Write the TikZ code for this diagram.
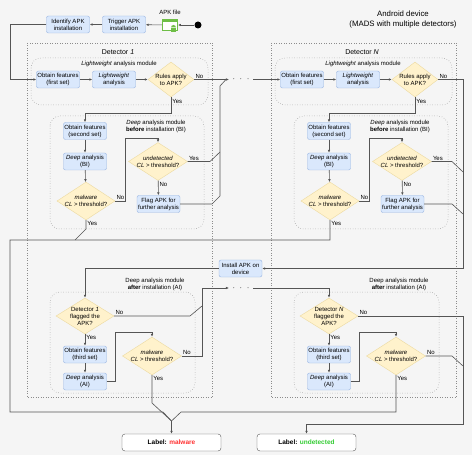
\documentclass[tikz,border=0pt]{standalone}
\usepackage{fontspec}
\setmainfont{Liberation Sans}
\usetikzlibrary{arrows.meta,shapes.geometric,calc}
\definecolor{BoxBlue}{RGB}{218,232,252}
\definecolor{BoxLine}{RGB}{150,180,225}
\definecolor{DiaFill}{RGB}{255,242,204}
\definecolor{DiaLine}{RGB}{236,218,160}
\definecolor{FlowGray}{RGB}{85,85,85}
\definecolor{FrameGray}{RGB}{140,140,140}
\definecolor{PageGray}{RGB}{245,245,245}
\definecolor{ApkGreen}{RGB}{110,190,70}
\definecolor{MalRed}{RGB}{255,51,51}
\definecolor{UndGreen}{RGB}{51,204,51}

\begin{document}
\begin{tikzpicture}[x=1pt,y=1pt,>={Latex[length=3pt,width=2.6pt]},
    font=\fontsize{6}{7}\selectfont,
    box/.style={draw=BoxLine,fill=BoxBlue,rounded corners=2pt,minimum width=43pt,minimum height=17pt,inner sep=1pt,align=center},
    dia/.style={shape=diamond,draw=DiaLine,fill=DiaFill,inner sep=-4pt,minimum width=58pt,minimum height=36pt,align=center},
    flow/.style={draw=FlowGray,line width=0.6pt},
    frame/.style={draw=FrameGray,dotted,line width=0.5pt},
    module/.style={frame,rounded corners=10pt},
    lbl/.style={inner sep=1pt},
    result/.style={draw=FlowGray,fill=white,rounded corners=3pt,minimum width=99pt,minimum height=17pt,font=\fontsize{6.5}{7}\selectfont\bfseries}]
      \useasboundingbox (0,0) rectangle (474,-457);
      \fill[PageGray] (0,0) rectangle (472,-455);
      \node[align=center,font=\fontsize{7.8}{10}\selectfont] (device) at (403,-19) {Android device\\(MADS with multiple detectors)};
      % APK file and installation trigger
      \node[circle,fill=black,minimum size=7pt,inner sep=0pt] (start) at (198,-25) {};
      \node[draw=ApkGreen,fill=white,line width=0.9pt,minimum width=15pt,minimum height=11pt,inner sep=0pt] (apk) at (170,-25) {};
      \fill[ApkGreen] (apk.north west) rectangle ($(apk.north east)+(0,-3)$);
      \fill[ApkGreen] (176,-27.5) arc (0:180:2.5) -- cycle;
      \fill[ApkGreen] (171,-28) rectangle (176,-32);
      \node (apkname) at (170,-12) {APK file};
      \node[box] (trig) at (124,-24.5) {Trigger APK\\installation};
      \node[box] (ident) at (68,-24.5) {Identify APK\\installation};
      \draw[flow,->] (start) -- (apk);
      \draw[flow,->] (apk) -- (trig);
      \draw[flow,->] (trig) -- (ident);
      % one detector, drawn twice
      \foreach \d/\o in {1/0,N/244}{
        \begin{scope}[xshift=\o pt]
          \draw[frame] (27,-43) rectangle (212,-397);
          \node[font=\fontsize{7}{8}\selectfont] (det\d) at (118,-52) {Detector \textit{\d}};
          \draw[module] (31,-58) rectangle (208,-105);
          \node (lwtitle\d) at (119,-64) {\textit{Lightweight} analysis module};
          \node[box] (feat1\d) at (58,-79.5) {Obtain features\\(first set)};
          \node[box] (lwa\d) at (114,-79.5) {\textit{Lightweight}\\analysis};
          \node[dia,minimum width=46pt,minimum height=35pt] (rules\d) at (171,-79.5) {Rules apply\\to APK?};
          \draw[flow,->] (feat1\d) -- (lwa\d);
          \draw[flow,->] (lwa\d) -- (rules\d);
          % before installation
          \draw[module] (50,-116) rectangle (204,-229);
          \node[align=center] (bititle\d) at (156,-126) {\textit{Deep} analysis module\\\textbf{before} installation (BI)};
          \node[box] (feat2\d) at (85,-131) {Obtain features\\(second set)};
          \node[box] (deepbi\d) at (85,-161.5) {\textit{Deep} analysis\\(BI)};
          \node[dia,minimum height=35pt] (malbi\d) at (86,-201) {\textit{malware}\\\textit{CL} > threshold?};
          \node[dia,minimum width=59pt,minimum height=37pt] (undet\d) at (158,-161.5) {\textit{undetected}\\\textit{CL} > threshold?};
          \node[box] (flag\d) at (158.5,-204) {Flag APK for\\further analysis};
          \draw[flow,->] (rules\d.south) -- (171,-113) node[lbl,pos=0.25,right]{Yes} -| (feat2\d.north);
          \draw[flow,->] (feat2\d) -- (deepbi\d);
          \draw[flow,->] (deepbi\d) -- (malbi\d);
          \draw[flow,->] (malbi\d.east) node[lbl,above right]{No} -- (125,-201) -- (125,-138) -- (158,-138) -- (undet\d.north);
          \draw[flow,->] (undet\d) -- node[lbl,pos=0.3,right]{No} (flag\d);
          % after installation
          \draw[module] (50,-292) rectangle (195,-393);
          \node[align=center] (aititle\d) at (155,-284) {Deep analysis module\\\textbf{after} installation (AI)};
          \node[dia] (flagged\d) at (85,-316) {Detector \textit{\d}\\flagged the\\APK?};
          \node[box] (feat3\d) at (85,-354.5) {Obtain features\\(third set)};
          \node[box] (deepai\d) at (85,-381.5) {\textit{Deep} analysis\\(AI)};
          \node[dia,minimum width=59pt] (malai\d) at (152,-356) {\textit{malware}\\\textit{CL} > threshold?};
          \draw[flow,->] (flagged\d) -- node[lbl,pos=0.3,right]{Yes} (feat3\d);
          \draw[flow,->] (feat3\d) -- (deepai\d);
          \draw[flow,->] (deepai\d.east) -- (115,-381.5) -- (115,-332) -- (152,-332) -- (malai\d.north);
        \end{scope}
      }
      \node (dotsLW) at (241,-79.5) {\fontsize{9}{9}\selectfont$\cdot\;\cdot\;\cdot$};
      \node (dotsAI) at (241,-288) {\fontsize{9}{9}\selectfont$\cdot\;\cdot\;\cdot$};
      \node[box] (inst) at (240.5,-268.5) {Install APK on\\device};
      \node[result] (lblmal) at (171.5,-442.5) {Label: \textcolor{MalRed}{malware}};
      \node[result] (lblund) at (306.5,-442.5) {Label: \textcolor{UndGreen}{undetected}};
      % detector 1 to detector N
      \draw[flow,->] (ident.west) -- (10,-24.5) |- (feat11.west);
      \draw[flow,->] (rules1.east) node[lbl,above right]{No} -- (dotsLW.west);
      \draw[flow,->] (dotsLW.east) -- (feat1N.west);
      \draw[flow] (undet1.east) node[lbl,above right]{Yes} -- (210,-161.5) -- (220,-152);
      \draw[flow] (flag1.east) -- (212,-204) -- (220,-196) -- (220,-86) -- (226,-79.5);
      \draw[flow] (malbi1.south) node[lbl,below right]{Yes} -- (86,-229) -- (75,-240);
      % detector N to installation
      \draw[flow,->] (rulesN.east) node[lbl,above right]{No} -- (463,-79.5) |- (inst.east);
      \draw[flow] (undetN.east) node[lbl,above right]{Yes} -- (452,-161.5) -- (463,-172);
      \draw[flow] (flagN.east) -- (452,-204) -- (463,-214);
      \draw[flow,->] (inst.west) -| (flagged1.north);
      % after installation
      \draw[flow] (flagged1.east) node[lbl,above right]{No} -- (190,-316) -- (202,-306);
      \draw[flow,->] (malai1.east) node[lbl,above right]{No} -- (202,-356) -- (202,-288) -- (dotsAI.west);
      \draw[flow,->] (dotsAI.east) -| (flaggedN.north);
      \draw[flow,->] (flaggedN.east) node[lbl,above right]{No} -- (463,-316) -- (463,-424) -| (lblund.north);
      \draw[flow] (malaiN.east) node[lbl,above right]{No} -- (452,-356) -- (463,-366);
      % malware outcomes
      \draw[flow,->] (malbiN.south) node[lbl,below right]{Yes} -- (330,-240) -- (10,-240) -- (10,-412) -- (163,-412) -- (171.5,-421) -- (lblmal.north);
      \draw[flow] (malai1.south) node[lbl,below right]{Yes} -- (152,-403) -- (171.5,-421);
      \draw[flow] (malaiN.south) node[lbl,below right]{Yes} -- (396,-412) -- (181,-412) -- (171.5,-421);
\end{tikzpicture}
\end{document}
